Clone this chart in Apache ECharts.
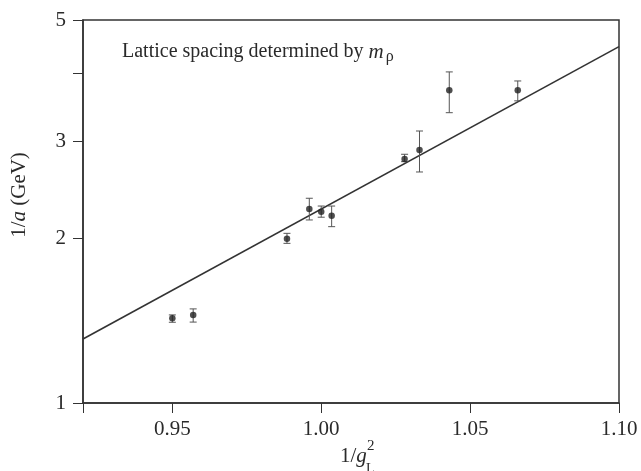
<!DOCTYPE html>
<html><head><meta charset="utf-8">
<script src="https://cdn.jsdelivr.net/npm/echarts@6/dist/echarts.min.js"></script>
<style>html,body{margin:0;padding:0;background:#fff}#c{width:641px;height:471px}</style>
</head><body><div id="c"></div>
<script>
// data
const xVals = [0.950, 0.957, 0.9885, 0.996, 1.000, 1.0035, 1.028, 1.033, 1.043, 1.066];
const yVals = [1.428, 1.448, 1.995, 2.26, 2.234, 2.197, 2.788, 2.895, 3.72, 3.72];
const yLow  = [1.404, 1.405, 1.956, 2.158, 2.183, 2.098, 2.757, 2.64, 3.387, 3.56];
const yHigh = [1.448, 1.485, 2.040, 2.364, 2.288, 2.288, 2.844, 3.136, 4.02, 3.87];
const fitX = [0.92, 1.10];
const fitY = [1.309, 4.47];
const xTicks = [0.92, 0.95, 1.00, 1.05, 1.10];
const xTickLabels = [0.95, 1.00, 1.05, 1.10];
const yTicks = [1, 2, 3, 4, 5];
const yTickLabels = [1, 2, 3, 5];

const FONT = 'Liberation Serif';
const TXT = '#2a2a2a';
const chart = echarts.init(document.getElementById('c'), null, {renderer: 'canvas'});
const pts = xVals.map((x, i) => [x, yVals[i]]);
const errs = xVals.map((x, i) => [x, yLow[i], yHigh[i]]);
chart.setOption({
  animation: false,
  grid: {left: 83, right: 22, top: 20, bottom: 68, show: true, borderColor: '#333', borderWidth: 1.5, backgroundColor: 'transparent'},
  xAxis: {
    type: 'value', min: 0.92, max: 1.10,
    axisLine: {show: true, lineStyle: {color: '#333', width: 1.5}},
    splitLine: {show: false},
    axisTick: {show: true, inside: false, length: 10, customValues: xTicks, lineStyle: {color: '#333', width: 1}},
    axisLabel: {customValues: xTickLabels, formatter: v => v.toFixed(2), color: TXT, fontFamily: FONT, fontSize: 21, margin: 16}
  },
  yAxis: {
    type: 'log', logBase: 10, min: 1, max: 5,
    axisLine: {show: true, lineStyle: {color: '#333', width: 1.5}},
    splitLine: {show: false},
    minorTick: {show: false},
    axisTick: {show: true, inside: false, length: 10, customValues: yTicks, lineStyle: {color: '#333', width: 1}},
    axisLabel: {customValues: yTickLabels, formatter: v => String(Math.round(v)), color: TXT, fontFamily: FONT, fontSize: 21, margin: 17}
  },
  series: [
    {
      type: 'line', data: fitX.map((x, i) => [x, fitY[i]]), symbol: 'none',
      lineStyle: {color: '#333', width: 1.6}, z: 2
    },
    {
      type: 'custom', data: errs, z: 3,
      renderItem: function (params, api) {
        const x = api.value(0);
        const lo = api.coord([x, api.value(1)]);
        const hi = api.coord([x, api.value(2)]);
        const w = 3.5;
        const st = {stroke: '#555', lineWidth: 1};
        return {type: 'group', children: [
          {type: 'line', shape: {x1: lo[0], y1: lo[1], x2: hi[0], y2: hi[1]}, style: st},
          {type: 'line', shape: {x1: lo[0] - w, y1: lo[1], x2: lo[0] + w, y2: lo[1]}, style: st},
          {type: 'line', shape: {x1: hi[0] - w, y1: hi[1], x2: hi[0] + w, y2: hi[1]}, style: st}
        ]};
      }
    },
    {
      type: 'scatter', data: pts, symbol: 'circle', symbolSize: 6.5,
      itemStyle: {color: '#222'}, z: 4
    }
  ],
  graphic: [
    {type: 'text', x: 122, y: 52, style: {
      text: 'Lattice spacing determined by {i|m}{s|ρ}', fill: TXT, font: '20px "Liberation Serif"', verticalAlign: 'middle',
      rich: {i: {fontStyle: 'italic', fontSize: 21, fontFamily: FONT, fill: TXT}, s: {fontSize: 16, fontFamily: FONT, padding: [10, 0, 0, 2], fill: TXT}}
    }},
    {type: 'text', x: 19, y: 195, rotation: Math.PI / 2, style: {
      text: '1/{i|a} (GeV)', fill: TXT, font: '21px "Liberation Serif"', align: 'center', verticalAlign: 'middle',
      rich: {i: {fontStyle: 'italic', fontSize: 21, fontFamily: FONT, fill: TXT}}
    }},
    {type: 'text', x: 340, y: 456, style: {
      text: '1/{i|g}', fill: TXT, font: '21px "Liberation Serif"', align: 'left', verticalAlign: 'middle',
      rich: {i: {fontStyle: 'italic', fontSize: 21, fontFamily: FONT, fill: TXT}}
    }},
    {type: 'text', x: 367, y: 446, style: {text: '2', fill: TXT, font: '15px "Liberation Serif"', align: 'left', verticalAlign: 'middle'}},
    {type: 'text', x: 366, y: 469, style: {text: 'L', fill: TXT, font: '14px "Liberation Serif"', align: 'left', verticalAlign: 'middle'}}
  ]
});
</script></body></html>
